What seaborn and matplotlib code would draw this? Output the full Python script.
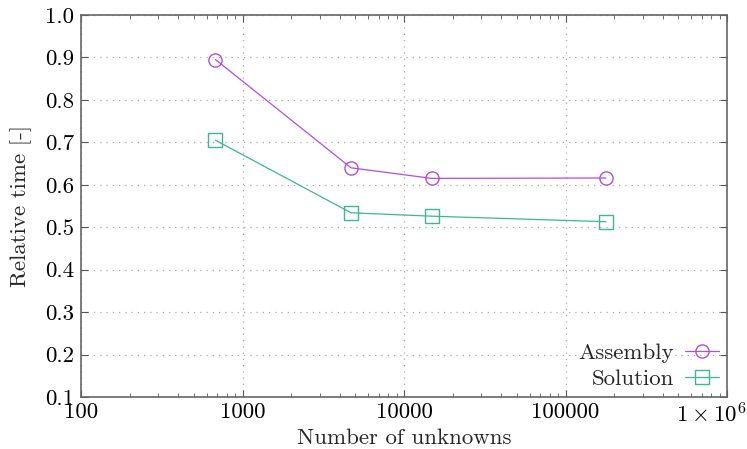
import matplotlib
matplotlib.use("Agg")
import matplotlib.pyplot as plt
import matplotlib.ticker as mticker
import matplotlib.transforms as mtrans
import numpy as np
import pandas as pd
import seaborn as sb

# values
unknowns = [680, 4700, 14900, 178000]
assembly = [0.895, 0.640, 0.615, 0.616]
solution = [0.705, 0.534, 0.526, 0.513]
x_ticks = [100, 1000, 10000, 100000, 1000000]
x_labels = ["100", "1000", "10000", "100000", r"$1\times10^6$"]
y_ticks = [0.1, 0.2, 0.3, 0.4, 0.5, 0.6, 0.7, 0.8, 0.9, 1.0]

culori = {"Assembly": "#b04ee0", "Solution": "#3cb88e"}
markere = {"Assembly": "o", "Solution": "s"}

df = pd.DataFrame({
    "n": unknowns * 2,
    "t": assembly + solution,
    "serie": ["Assembly"] * len(unknowns) + ["Solution"] * len(unknowns),
})

sb.set_style("ticks")
plt.rcParams["font.family"] = ["cmr10", "DejaVu Serif"]
plt.rcParams["mathtext.fontset"] = "cm"
plt.rcParams["axes.unicode_minus"] = False
plt.rcParams["axes.formatter.use_mathtext"] = True

fs = 16.5
f = plt.figure(figsize=(7.47, 4.49), dpi=100)
ax = f.add_axes([81 / 747, 52 / 449, 646 / 747, 382 / 449])

for s in ["Assembly", "Solution"]:
    d = df[df["serie"] == s]
    sb.lineplot(data=d, x="n", y="t", ax=ax, color=culori[s], marker=markere[s],
                markersize=9.5, markerfacecolor="none", markeredgecolor=culori[s],
                markeredgewidth=1.0, linewidth=0.9, label=s)

ax.set_xscale("log")
ax.set_xlim(100, 1e6)
ax.set_ylim(0.1, 1.0)
ax.xaxis.set_major_locator(mticker.FixedLocator(x_ticks))
ax.xaxis.set_major_formatter(mticker.FixedFormatter(x_labels))
ax.xaxis.set_minor_locator(mticker.LogLocator(base=10, subs=np.arange(2, 10)))
ax.xaxis.set_minor_formatter(mticker.NullFormatter())
ax.yaxis.set_major_locator(mticker.FixedLocator(y_ticks))
ax.yaxis.set_major_formatter(mticker.FormatStrFormatter("%.1f"))

ax.tick_params(which="both", direction="in", top=True, right=True, colors="#555555",
               labelcolor="black", labelsize=fs)
ax.tick_params(axis="x", pad=4)
ax.tick_params(axis="y", pad=5)
ax.tick_params(which="major", length=5)
ax.tick_params(which="minor", length=3)
for sp in ax.spines.values():
    sp.set_color("#666666")
    sp.set_linewidth(1.2)

# last x label sits left of its tick so it fits in the figure
ultim = ax.get_xticklabels()[-1]
ultim.set_transform(ultim.get_transform() + mtrans.ScaledTranslation(-0.155, 0, f.dpi_scale_trans))

ax.grid(True, which="major", linestyle=(0, (1, 4)), color="#aaaaaa", linewidth=0.9)

ax.set_xlabel("Number of unknowns", fontsize=fs, labelpad=1)
ax.set_ylabel("Relative time [-]", fontsize=fs, labelpad=9)

leg = ax.legend(loc="lower right", frameon=False, markerfirst=False, fontsize=fs,
                handlelength=1.5, handletextpad=0.45, borderaxespad=0.05, borderpad=0.3,
                labelspacing=0.25)

f.savefig("out.png", dpi=100)
